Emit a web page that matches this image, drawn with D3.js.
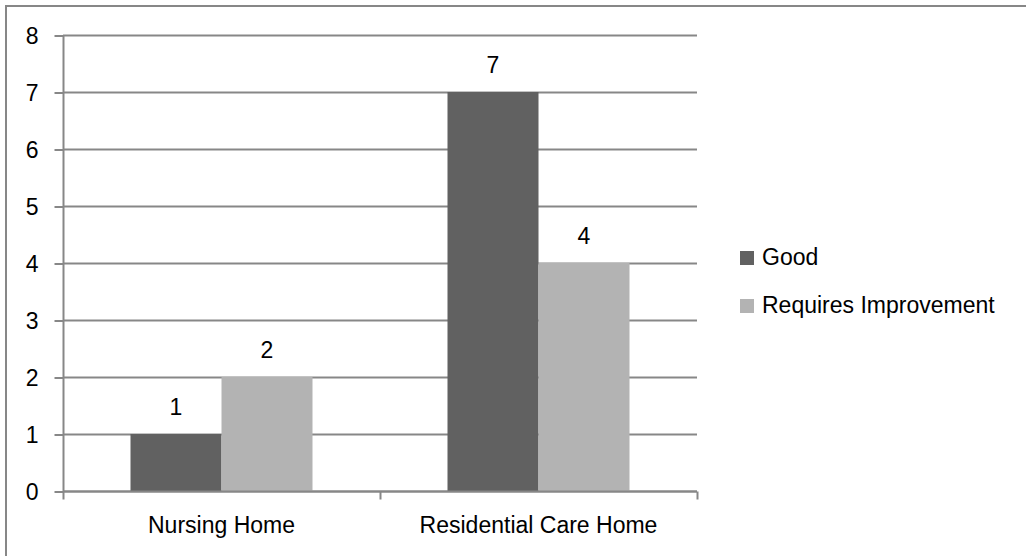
<!DOCTYPE html>
<html>
<head>
<meta charset="utf-8">
<script src="https://cdn.jsdelivr.net/npm/d3@7"></script>
<style>
  html, body { margin: 0; padding: 0; background: #fff; }
  svg { display: block; }
  text { font-family: "Liberation Sans", Arial, sans-serif; fill: #000; }
</style>
</head>
<body>
<div id="chart"></div>
<script>
const categories = ["Nursing Home", "Residential Care Home"];
const seriesNames = ["Good", "Requires Improvement"];
const goodValues = [1, 7];
const requiresValues = [2, 4];
const yTicks = [0, 1, 2, 3, 4, 5, 6, 7, 8];
const colors = ["#616161", "#b3b3b3"];

const W = 1026, H = 556;
const svg = d3.select("#chart").append("svg").attr("width", W).attr("height", H);

// outer chart border (only top & left visible in frame)
svg.append("rect").attr("x", 6).attr("y", 6).attr("width", 1200).attr("height", 800)
  .attr("fill", "#fff").attr("stroke", "#878787").attr("stroke-width", 2);

const plot = { left: 63, right: 697, top: 35, bottom: 491 };
const font = 23;

const x0 = d3.scaleBand().domain(categories).range([plot.left, plot.right]).padding(0);
const groupFrac = 182 / 317;
const x1 = d3.scaleBand().domain(seriesNames)
  .range([0, x0.bandwidth() * groupFrac]).padding(0);
const y = d3.scaleLinear().domain([0, 8]).range([plot.bottom, plot.top]);

const gridColor = "#878787";

// gridlines
svg.append("g").selectAll("line").data(yTicks).join("line")
  .attr("x1", plot.left).attr("x2", plot.right)
  .attr("y1", d => Math.round(y(d)) + 0.5).attr("y2", d => Math.round(y(d)) + 0.5)
  .attr("stroke", gridColor).attr("stroke-width", 2);

// bars
const data = categories.map((c, i) => ({ cat: c, vals: [goodValues[i], requiresValues[i]] }));
const groupOffset = (x0.bandwidth() - x0.bandwidth() * groupFrac) / 2;
const groups = svg.append("g").selectAll("g").data(data).join("g")
  .attr("transform", d => `translate(${x0(d.cat) + groupOffset},0)`);
groups.selectAll("rect").data(d => d.vals.map((v, j) => ({ name: seriesNames[j], v, j })))
  .join("rect")
  .attr("x", d => x1(d.name))
  .attr("width", x1.bandwidth())
  .attr("y", d => y(d.v))
  .attr("height", d => y(0) - y(d.v))
  .attr("fill", d => colors[d.j]);
groups.selectAll("text").data(d => d.vals.map((v, j) => ({ name: seriesNames[j], v, j })))
  .join("text")
  .attr("x", d => x1(d.name) + x1.bandwidth() / 2)
  .attr("y", d => y(d.v) - 19)
  .attr("text-anchor", "middle")
  .style("font-size", font + "px")
  .text(d => d.v);

// y axis
const yAxis = d3.axisLeft(y).tickValues(yTicks).tickSize(9).tickPadding(16).tickFormat(d3.format("d"));
const gy = svg.append("g").attr("transform", `translate(${plot.left + 0.5},0.5)`).call(yAxis);
gy.select(".domain").attr("stroke", gridColor).attr("stroke-width", 2)
  .attr("d", `M0,${plot.top - 0.5}V${plot.bottom - 0.5}`);
gy.selectAll(".tick line").attr("stroke", gridColor).attr("stroke-width", 2);
gy.selectAll(".tick text").style("font-size", font + "px")
  .style("font-family", '"Liberation Sans", Arial, sans-serif').attr("fill", "#000").attr("dy", "0.36em");

// x axis
const gx = svg.append("g").attr("transform", `translate(0,${plot.bottom + 0.5})`);
gx.append("line").attr("x1", plot.left).attr("x2", plot.right).attr("y1", 0).attr("y2", 0)
  .attr("stroke", gridColor).attr("stroke-width", 2);
const bounds = [plot.left, ...categories.map(c => x0(c) + x0.bandwidth())];
gx.selectAll("line.t").data(bounds).join("line").attr("class", "t")
  .attr("x1", d => d + 0.5).attr("x2", d => d + 0.5).attr("y1", 0).attr("y2", 8)
  .attr("stroke", gridColor).attr("stroke-width", 2);
gx.selectAll("text").data(categories).join("text")
  .attr("x", d => x0(d) + x0.bandwidth() / 2)
  .attr("y", 41)
  .attr("text-anchor", "middle")
  .style("font-size", font + "px")
  .text(d => d);

// legend
const legend = svg.append("g").selectAll("g").data(seriesNames).join("g")
  .attr("transform", (d, i) => `translate(740,${265 + i * 48})`);
legend.append("rect").attr("x", 0).attr("y", -14).attr("width", 14).attr("height", 14)
  .attr("fill", (d, i) => colors[i]);
legend.append("text").attr("x", 22).attr("y", 0).style("font-size", font + "px").text(d => d);
</script>
</body>
</html>
